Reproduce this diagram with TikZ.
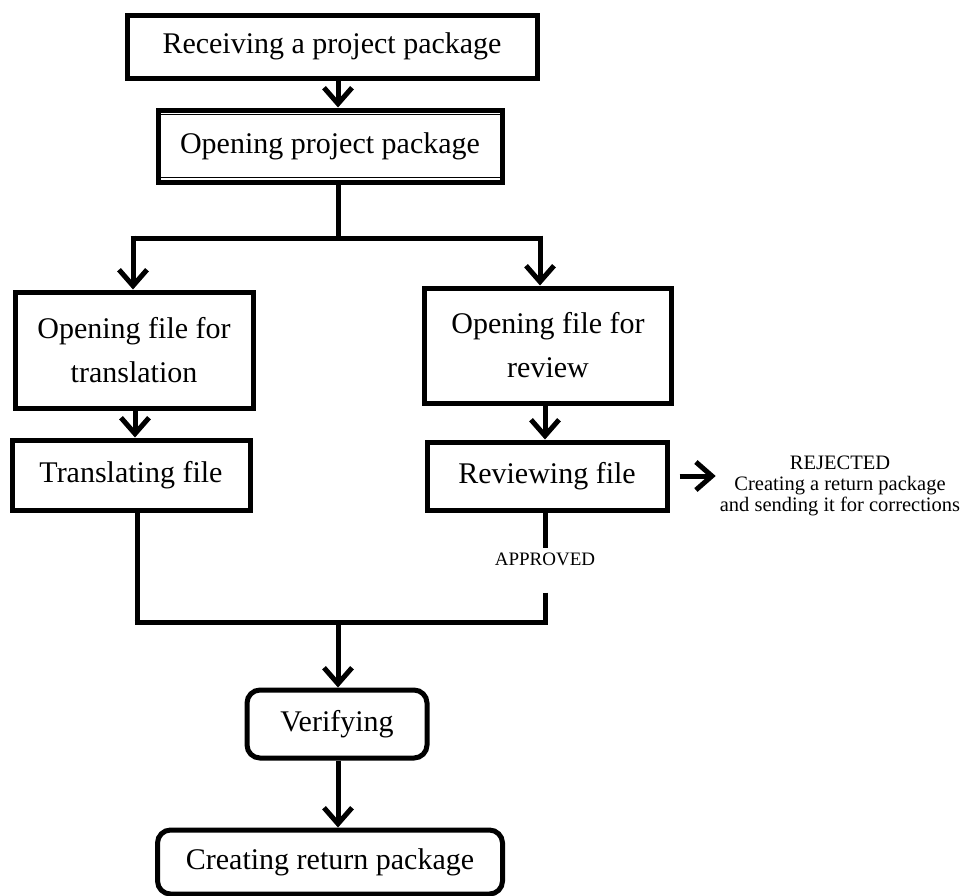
\documentclass[tikz,border=0pt]{standalone}
\usepackage{fontspec}
\setmainfont{Liberation Serif}
\usetikzlibrary{arrows.meta,calc}
\begin{document}
\begin{tikzpicture}[x=1pt,y=-1pt,
  box/.style={draw=black,line width=5pt,fill=white,inner sep=0pt,align=center,
    font=\fontsize{30}{44}\selectfont},
  rbox/.style={box,rounded corners=13pt},
  conn/.style={line width=5pt},
  arr/.style={conn,-{Straight Barb[length=16pt,width=28pt]}},
  lbl/.style={inner sep=0pt,align=center,font=\fontsize{20.5}{21}\selectfont}]
\useasboundingbox (0,0) rectangle (965,895);
\node[box,minimum width=410pt,minimum height=63pt] (b1) at (332,46.5) {Receiving a project package};
\node[box,minimum width=344pt,minimum height=72pt] (b2) at (330,146) {Opening project package};
\draw[line width=1.5pt] ([xshift=4pt,yshift=-7pt]b2.north west) -- ([xshift=-4pt,yshift=-7pt]b2.north east);
\draw[line width=1.5pt] ([xshift=4pt,yshift=7pt]b2.south west) -- ([xshift=-4pt,yshift=7pt]b2.south east);
\node[box,minimum width=238pt,minimum height=116pt] (b3) at (134,350) {Opening file for\\translation};
\node[box,minimum width=247pt,minimum height=115pt] (b4) at (548,345.5) {Opening file for\\review};
\node[box,minimum width=238pt,minimum height=70pt] (b5) at (131,475) {Translating file};
\node[box,minimum width=240pt,minimum height=68pt] (b6) at (547,476) {Reviewing file};
\node[rbox,minimum width=180pt,minimum height=68pt] (b7) at (337,724) {Verifying};
\node[rbox,minimum width=345pt,minimum height=64pt] (b8) at (330,862) {Creating return package};
\node[lbl] (rej) at (840,486) {REJECTED\\Creating a return package\\and sending it for corrections};
\node[lbl,font=\fontsize{19}{20}\selectfont] (app) at (545,559) {APPROVED};
\coordinate (j1) at (338,238);
\coordinate (jl) at (133,238);
\coordinate (jr) at (540,238);
\coordinate (j2) at (338,622);
\coordinate (jbl) at (137,622);
\coordinate (jbr) at (545,622);
\draw[arr] (b1.south -| j1) -- (b2.north -| j1);
\draw[conn] (b2.south -| j1) -- (j1);
\draw[conn] ([xshift=-2.5pt]jl) -- ([xshift=2.5pt]jr);
\draw[arr] ([yshift=2.5pt]jl) -- (b3.north -| jl);
\draw[arr] ([yshift=2.5pt]jr) -- (b4.north -| jr);
\draw[arr] (b3.south -| 135,0) -- (b5.north -| 135,0);
\draw[arr] (b4.south -| jbr) -- (b6.north -| jbr);
\draw[conn] (b5.south -| jbl) -- ([yshift=-2.5pt]jbl);
\draw[conn] ([xshift=-2.5pt]jbl) -- ([xshift=2.5pt]jbr);
\draw[conn] (b6.south -| jbr) -- ([yshift=4pt]app.north -| jbr);
\draw[conn] ([yshift=-27pt]app.south -| jbr) -- ([yshift=-2.5pt]jbr);
\draw[arr] ([xshift=10pt]b6.east) -- ([xshift=-4pt]rej.west |- b6.east);
\draw[arr] (j2) -- (b7.north -| j2);
\draw[arr] (b7.south -| j2) -- (b8.north -| j2);
\end{tikzpicture}
\end{document}
